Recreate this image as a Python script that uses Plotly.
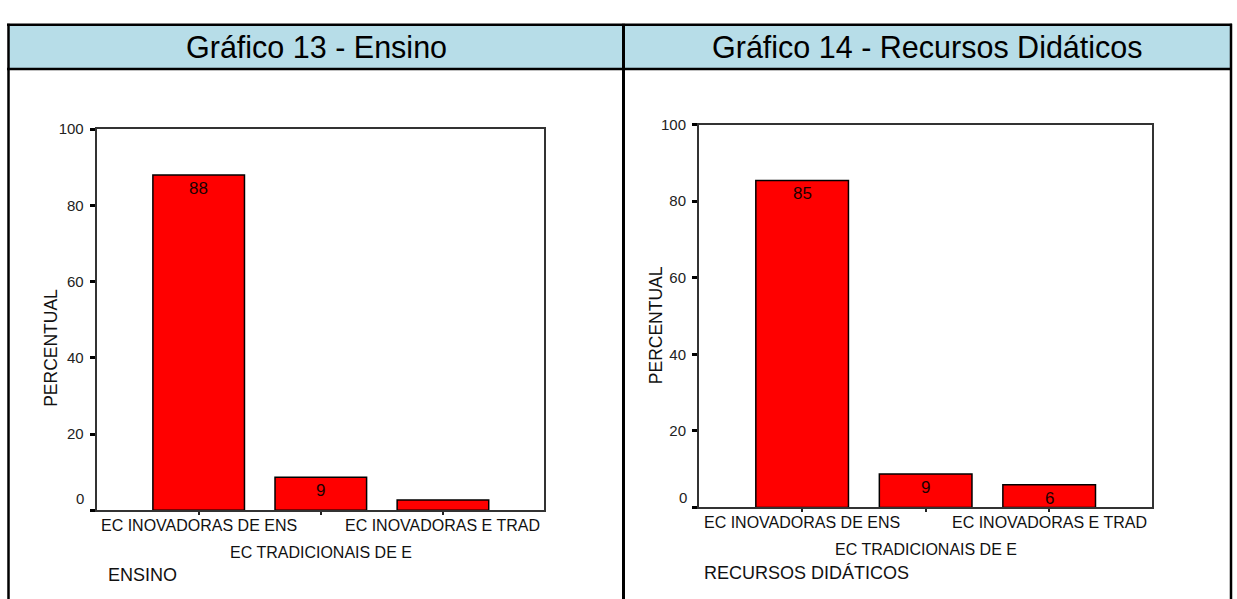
import plotly.graph_objects as go

# ---------------- data ----------------
categories = ["EC INOVADORAS DE ENS", "EC TRADICIONAIS DE E", "EC INOVADORAS E TRAD"]
ensino_values = [88.0, 8.7, 2.7]
ensino_labels = ["88", "9", ""]
recursos_values = [85.4, 8.7, 5.9]
recursos_labels = ["85", "9", "6"]
y_ticks = [0, 20, 40, 60, 80, 100]
panel_titles = ["Gráfico 13 - Ensino", "Gráfico 14 - Recursos Didáticos"]
x_titles = ["ENSINO", "RECURSOS DIDÁTICOS"]
y_title = "PERCENTUAL"

W, H = 1237, 599
FONT = "Liberation Sans, Arial, sans-serif"


def px(x):
    return x / W


def py(y):
    return 1 - y / H


fig = go.Figure()

panels = [
    dict(values=ensino_values, labels=ensino_labels, xa="x", ya="y",
         dom_x=(96.7, 544.3), dom_y=(122, 509), zero_lab_x=86, zero_shift=12,
         ytitle=(51, 344), xtitle=(106, 575)),
    dict(values=recursos_values, labels=recursos_labels, xa="x2", ya="y2",
         dom_x=(699, 1151.7), dom_y=(117.3, 506), zero_lab_x=689, zero_shift=10,
         ytitle=(656, 321), xtitle=(702, 573)),
]

annotations = []
for k, p in enumerate(panels):
    idx = list(range(len(categories)))
    fig.add_trace(go.Bar(
        x=idx, y=p["values"], width=0.75,
        marker=dict(color="#FF0000", line=dict(color="#000000", width=1.5)),
        xaxis=p["xa"], yaxis=p["ya"], showlegend=False, hoverinfo="skip",
    ))
    # value labels inside bars
    for i, (v, t) in enumerate(zip(p["values"], p["labels"])):
        if t:
            annotations.append(dict(x=i, y=v, xref=p["xa"], yref=p["ya"], text=t,
                                    showarrow=False, yshift=-13.5, yanchor="middle",
                                    font=dict(family=FONT, size=17, color="#1a0000")))
    # category labels (staggered)
    for i, c in enumerate(categories):
        annotations.append(dict(x=i, y=0, xref=p["xa"], yref=p["ya"], text=c,
                                showarrow=False, yanchor="middle",
                                yshift=-15 if i % 2 == 0 else -42,
                                font=dict(family=FONT, size=16, color="#111")))
    # shifted zero label
    annotations.append(dict(x=px(p["zero_lab_x"]), xref="paper", xanchor="right",
                            y=0, yref=p["ya"], yanchor="middle", yshift=p["zero_shift"],
                            text=str(y_ticks[0]), showarrow=False,
                            font=dict(family=FONT, size=15, color="#222")))
    # axis titles
    annotations.append(dict(x=px(p["ytitle"][0]), y=py(p["ytitle"][1]), xref="paper", yref="paper",
                            text=y_title, textangle=-90, showarrow=False,
                            xanchor="center", yanchor="middle",
                            font=dict(family=FONT, size=17.5, color="#111")))
    annotations.append(dict(x=px(p["xtitle"][0]), y=py(p["xtitle"][1]), xref="paper", yref="paper",
                            text=x_titles[k], showarrow=False, xanchor="left", yanchor="middle",
                            font=dict(family=FONT, size=18, color="#111")))

    xkey = "xaxis" if k == 0 else "xaxis2"
    ykey = "yaxis" if k == 0 else "yaxis2"
    fig.layout[xkey] = dict(
        domain=[px(p["dom_x"][0]), px(p["dom_x"][1])], anchor=p["ya"],
        range=[-0.835, 2.83], tickvals=idx, showticklabels=False,
        ticks="outside", ticklen=3, tickwidth=2, tickcolor="#222",
        showline=True, mirror=True, linecolor="#333", linewidth=2,
        showgrid=False, zeroline=False, fixedrange=True,
    )
    fig.layout[ykey] = dict(
        domain=[py(p["dom_y"][1]), py(p["dom_y"][0])], anchor=p["xa"],
        range=[0, 100], tickvals=y_ticks, ticktext=[""] + [str(t) for t in y_ticks[1:]],
        ticks="outside", ticklen=5, tickwidth=3, tickcolor="#000",
        tickfont=dict(family=FONT, size=15, color="#222"), ticklabelstandoff=3,
        showline=True, mirror=True, linecolor="#333", linewidth=2,
        showgrid=False, zeroline=False, fixedrange=True,
    )

# panel header titles
for title, cx in zip(panel_titles, [316, 927]):
    annotations.append(dict(x=px(cx), y=py(38.5), xref="paper", yref="paper", text=title,
                            showarrow=False, xanchor="center", yanchor="middle",
                            font=dict(family=FONT, size=30.5, color="#000")))

shapes = [
    # header band
    dict(type="rect", xref="paper", yref="paper", x0=px(8), x1=px(1231), y0=py(16), y1=py(61),
         fillcolor="#B7DDE8", line=dict(width=0), layer="below"),
    # table borders
    dict(type="line", xref="paper", yref="paper", x0=px(7), x1=px(1232), y0=py(16), y1=py(16),
         line=dict(color="#000", width=2.5)),
    dict(type="line", xref="paper", yref="paper", x0=px(7), x1=px(1232), y0=py(61), y1=py(61),
         line=dict(color="#000", width=2.5)),
    dict(type="line", xref="paper", yref="paper", x0=px(8.5), x1=px(8.5), y0=py(15), y1=py(605),
         line=dict(color="#000", width=2.5)),
    dict(type="line", xref="paper", yref="paper", x0=px(623.5), x1=px(623.5), y0=py(15), y1=py(605),
         line=dict(color="#000", width=3)),
    dict(type="line", xref="paper", yref="paper", x0=px(1231), x1=px(1231), y0=py(15), y1=py(605),
         line=dict(color="#000", width=2.5)),
]

fig.update_layout(
    width=W, height=H, margin=dict(l=0, r=0, t=0, b=0),
    paper_bgcolor="white", plot_bgcolor="white",
    annotations=annotations, shapes=shapes, bargap=0.25,
    font=dict(family=FONT),
)

fig.write_html("out.html")
